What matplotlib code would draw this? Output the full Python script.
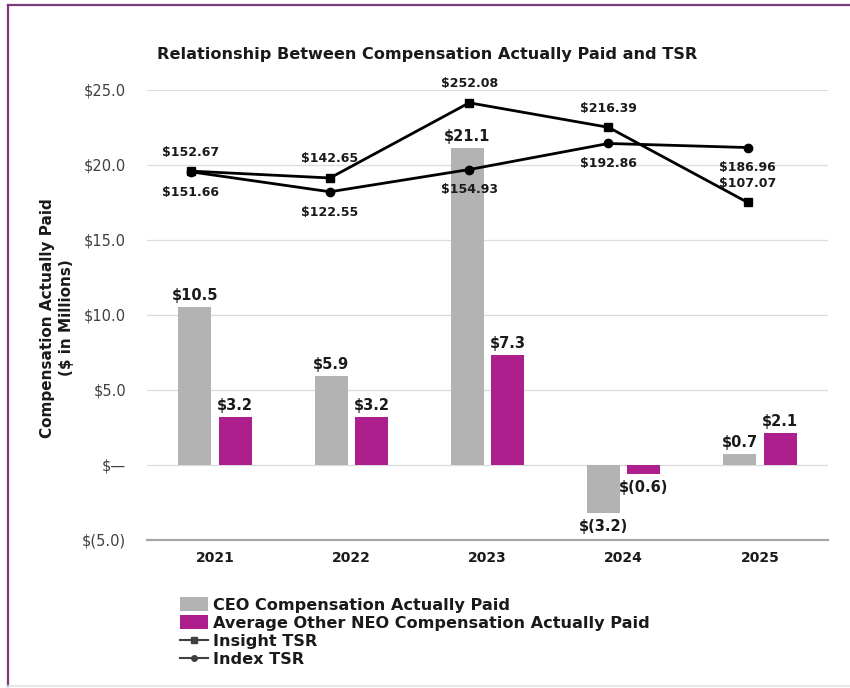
import matplotlib
matplotlib.use("Agg")
import matplotlib.pyplot as plt
import numpy as np
from matplotlib.lines import Line2D
from matplotlib.patches import Patch

years = ["2021", "2022", "2023", "2024", "2025"]
ceo_cap = [10.5, 5.9, 21.1, -3.2, 0.7]
neo_cap = [3.2, 3.2, 7.3, -0.6, 2.1]
insight_tsr = [152.67, 142.65, 252.08, 216.39, 107.07]
index_tsr = [151.66, 122.55, 154.93, 192.86, 186.96]
yticks = [-5, 0, 5, 10, 15, 20, 25]

plt.rcParams['font.family'] = ['DejaVu Sans']

W, H = 850, 688
fig = plt.figure(figsize=(W / 100, H / 100), dpi=100)

def money(v):
    if v < 0:
        return "$(%.1f)" % abs(v)
    if v == 0:
        return "$\u2014"
    return "$%.1f" % v

pos = [147 / W, 1 - 540 / H, (828 - 147) / W, (540 - 90) / H]
ax = fig.add_axes(pos)
x = np.arange(len(years))
bw = 0.242
off = 0.148
gray = "#b3b3b3"
mag = "#ad1f8c"
ax.bar(x - off, ceo_cap, bw, color=gray, zorder=2)
ax.bar(x + off, neo_cap, bw, color=mag, zorder=2)
ax.set_xlim(-0.5, 4.5)
ax.set_ylim(-5, 25)
ax.set_yticks(yticks)
ax.set_yticklabels([money(v) for v in yticks], fontsize=10.5, color="#404040")
ax.set_xticks(x)
ax.set_xticklabels(years, fontsize=10, fontweight="bold", color="#1a1a1a")
ax.tick_params(axis="y", length=0, pad=15)
ax.tick_params(axis="x", length=0, pad=8)
for s in ["top", "right", "left"]:
    ax.spines[s].set_visible(False)
ax.spines["bottom"].set_color("#a6a6a6")
ax.spines["bottom"].set_linewidth(1.6)
ax.grid(axis="y", color="#dcdcdc", linewidth=0.9, zorder=0)
ax.set_axisbelow(True)

for xi, v in zip(x, ceo_cap):
    va = "bottom" if v >= 0 else "top"
    dy = 3 if v >= 0 else -4
    ax.annotate(money(v), (xi - off, v), xytext=(0, dy), textcoords="offset points",
                ha="center", va=va, fontsize=10.5, fontweight="bold", color="#1a1a1a")
for xi, v in zip(x, neo_cap):
    va = "bottom" if v >= 0 else "top"
    dy = 3 if v >= 0 else -4
    ax.annotate(money(v), (xi + off, v), xytext=(0, dy), textcoords="offset points",
                ha="center", va=va, fontsize=10.5, fontweight="bold", color="#1a1a1a")

fig.text(57 / W, 1 - 318 / H, "Compensation Actually Paid\n($ in Millions)", fontsize=11,
         fontweight="bold", color="#1a1a1a", rotation=90, ha="center", va="center",
         linespacing=1.35, multialignment="center")

# TSR overlay axes
ax2 = fig.add_axes(pos, frameon=False)
ax2.set_xlim(-0.314, 4.577)
ax2.set_ylim(-384.3, 270.7)
ax2.set_xticks([])
ax2.set_yticks([])
xl = np.arange(len(years))
ax2.plot(xl, insight_tsr, color="black", lw=2, marker="s", ms=6, zorder=3)
ax2.plot(xl, index_tsr, color="black", lw=2, marker="o", ms=6, zorder=3)
for xi, v in zip(xl, insight_tsr):
    ax2.annotate("$%.2f" % v, (xi, v), xytext=(0, 9), textcoords="offset points",
                 ha="center", va="bottom", fontsize=9, fontweight="bold", color="#1a1a1a")
for xi, v in zip(xl, index_tsr):
    ax2.annotate("$%.2f" % v, (xi, v), xytext=(0, -10), textcoords="offset points",
                 ha="center", va="top", fontsize=9, fontweight="bold", color="#1a1a1a")

fig.text(427 / W, 1 - 55 / H, "Relationship Between Compensation Actually Paid and TSR",
         ha="center", va="center", fontsize=11.6, fontweight="bold", color="#1a1a1a")

handles = [
    Patch(facecolor=gray, edgecolor="none"),
    Patch(facecolor=mag, edgecolor="none"),
    Line2D([0], [0], color="#404040", lw=1.5, marker="s", ms=4),
    Line2D([0], [0], color="#404040", lw=1.5, marker="o", ms=4),
]
labels = ["CEO Compensation Actually Paid",
          "Average Other NEO Compensation Actually Paid",
          "Insight TSR", "Index TSR"]
fig.legend(handles, labels, loc="upper left", bbox_to_anchor=(172 / W, 1 - 589 / H),
           frameon=False, prop={"weight": "bold", "size": 11.6}, handlelength=1.75,
           handleheight=0.95, handletextpad=0.3, labelspacing=0.17, borderpad=0,
           labelcolor="#1a1a1a")

# frame
fig.add_artist(Line2D([8 / W, 8 / W], [1 - 5 / H, 1 - 686 / H], transform=fig.transFigure,
                      color="#7b3a7b", lw=1.6))
fig.add_artist(Line2D([8 / W, 1], [1 - 5 / H, 1 - 5 / H], transform=fig.transFigure,
                      color="#7b3a7b", lw=1.6))
fig.add_artist(Line2D([8 / W, 1], [1 - 686 / H, 1 - 686 / H], transform=fig.transFigure,
                      color="#e4e0ea", lw=1.2))

fig.savefig("out.png", dpi=100)
